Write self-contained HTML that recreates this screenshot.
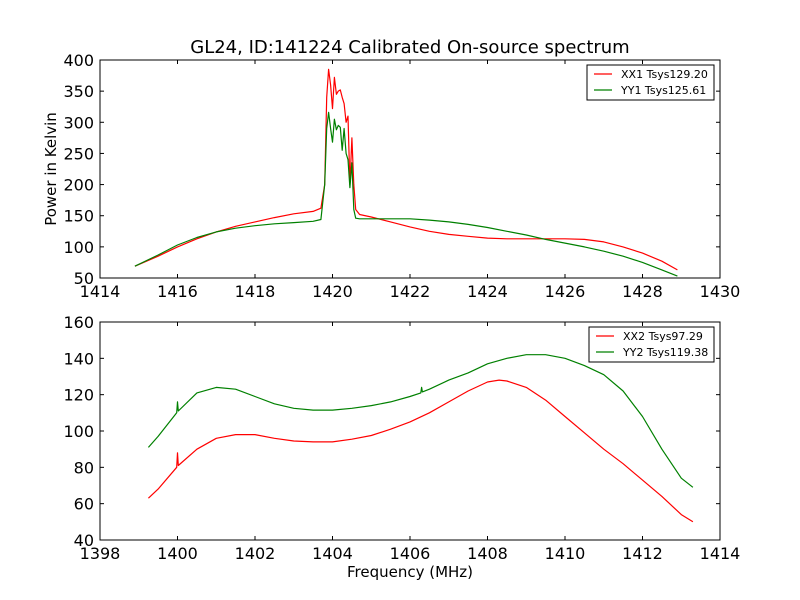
<!DOCTYPE html>
<html><head><meta charset="utf-8"><style>
body{margin:0;background:#fff;}
svg{display:block;font-family:"DejaVu Sans","Liberation Sans",sans-serif;}
</style></head><body>
<svg id="c" width="800" height="600"></svg>
<script>
const topFreq=[1414.9,1415.5,1416,1416.5,1417,1417.5,1418,1418.5,1419,1419.5,1419.7,1419.8,1419.85,1419.9,1419.95,1420.0,1420.05,1420.1,1420.15,1420.2,1420.25,1420.3,1420.35,1420.4,1420.45,1420.5,1420.55,1420.6,1420.7,1421,1421.5,1422,1422.5,1423,1423.5,1424,1424.5,1425,1425.5,1426,1426.5,1427,1427.5,1428,1428.5,1428.9];
const xx1=[69,85,100,113,124,133,140,147,153,157,162,200,340,385,360,322,372,345,350,352,340,330,300,310,200,275,200,160,152,148,140,132,125,120,117,114,113,113,113,113,112,108,100,90,77,63];
const yy1=[69,87,103,115,124,130,134,137,139,141,144,200,290,316,290,268,305,288,295,292,255,290,250,240,195,235,160,146,145,145,145,145,143,140,136,131,125,119,112,106,100,93,85,75,63,53];
const botFreqR=[1399.25,1399.5,1399.98,1400,1400.02,1400.5,1401,1401.5,1402,1402.5,1403,1403.5,1404,1404.5,1405,1405.5,1406,1406.5,1407,1407.5,1408,1408.3,1408.5,1409,1409.5,1410,1410.5,1411,1411.5,1412,1412.5,1413,1413.3];
const xx2=[63,68,80,88,81,90,96,98,98,96,94.5,94,94,95.5,97.5,101,105,110,116,122,127,128,127.5,124,117,108,99,90,82,73,64,54,50];
const botFreqG=[1399.25,1399.5,1399.98,1400,1400.02,1400.5,1401,1401.5,1402,1402.5,1403,1403.5,1404,1404.5,1405,1405.5,1406,1406.28,1406.3,1406.32,1406.5,1407,1407.5,1408,1408.5,1409,1409.5,1410,1410.5,1411,1411.5,1412,1412.5,1413,1413.3];
const yy2=[91,97,110,116,111,121,124,123,119,115,112.5,111.5,111.5,112.5,114,116,119,121,124,121.5,123,128,132,137,140,142,142,140,136,131,122,108,90,74,69];
const topXTicks=[1414,1416,1418,1420,1422,1424,1426,1428,1430];
const topYTicks=[50,100,150,200,250,300,350,400];
const botXTicks=[1398,1400,1402,1404,1406,1408,1410,1412,1414];
const botYTicks=[40,60,80,100,120,140,160];

const svg=document.getElementById('c');
const NS='http://www.w3.org/2000/svg';
function mk(t,a,p){const e=document.createElementNS(NS,t);for(const k in a)e.setAttribute(k,a[k]);(p||svg).appendChild(e);return e;}
function txt(s,x,y,size,anchor,p){const e=mk('text',{x:x,y:y,'font-size':size,'text-anchor':anchor||'middle',fill:'#000'},p);e.textContent=s;return e;}

function axes(name,L,T,R,B,x0,x1,y0,y1,xt,yt){
  const g=mk('g',{});
  
  
  const sx=v=>L+(v-x0)/(x1-x0)*(R-L), sy=v=>B-(v-y0)/(y1-y0)*(B-T);
  xt.forEach(v=>{const x=sx(v);mk('line',{x1:x,x2:x,y1:B,y2:B-4,stroke:'#000'},g);mk('line',{x1:x,x2:x,y1:T,y2:T+4,stroke:'#000'},g);
    const t=txt(String(v),x,B+19,16,'middle',g);});
  yt.forEach(v=>{const y=sy(v);mk('line',{x1:L,x2:L+4,y1:y,y2:y,stroke:'#000'},g);mk('line',{x1:R,x2:R-4,y1:y,y2:y,stroke:'#000'},g);
    const t=txt(String(v),L-6,y+6,16,'end',g);});
  return {g,sx,sy,L,T,R,B};
}
function series(ax,xs,ys,col,name){
  const d=xs.map((x,i)=>(i?'L':'M')+ax.sx(x).toFixed(1)+','+ax.sy(ys[i]).toFixed(1)).join('');
  const p=mk('path',{d:d,fill:'none',stroke:col,'stroke-width':1.2,'stroke-linejoin':'round'},ax.g);
  
  
}
function frame(ax){mk('rect',{x:ax.L,y:ax.T,width:ax.R-ax.L,height:ax.B-ax.T,fill:'none',stroke:'#000'},ax.g);}
function legend(ax,x,y,w,items,name){
  const g=mk('g',{},ax.g);
  
  
  mk('rect',{x:x,y:y,width:w,height:35,fill:'#fff',stroke:'#000'},g);
  items.forEach((it,i)=>{const yy=y+9+i*16;mk('line',{x1:x+7,x2:x+25,y1:yy,y2:yy,stroke:it[1],'stroke-width':1.2},g);
    const t=txt(it[0],x+34,yy+4,11,'start',g);});
}

const title=txt('GL24, ID:141224 Calibrated On-source spectrum',410,53,18,'middle');



const a1=axes('top-axes',100,60,720,278,1414,1430,50,400,topXTicks,topYTicks);
series(a1,topFreq,xx1,'#ff0000','xx1-line');
series(a1,topFreq,yy1,'#008000','yy1-line');
frame(a1);
legend(a1,587,65,127,[['XX1 Tsys129.20','#ff0000'],['YY1 Tsys125.61','#008000']],'top-legend');
const yl=txt('Power in Kelvin',0,0,15,'middle');
yl.setAttribute('transform','translate(56,169) rotate(-90)');



const a2=axes('bottom-axes',100,322,720,540,1398,1414,40,160,botXTicks,botYTicks);
series(a2,botFreqR,xx2,'#ff0000','xx2-line');
series(a2,botFreqG,yy2,'#008000','yy2-line');
frame(a2);
legend(a2,589,327,125,[['XX2 Tsys97.29','#ff0000'],['YY2 Tsys119.38','#008000']],'bottom-legend');
const xl=txt('Frequency (MHz)',410,577,15,'middle');


</script>
</body></html>
